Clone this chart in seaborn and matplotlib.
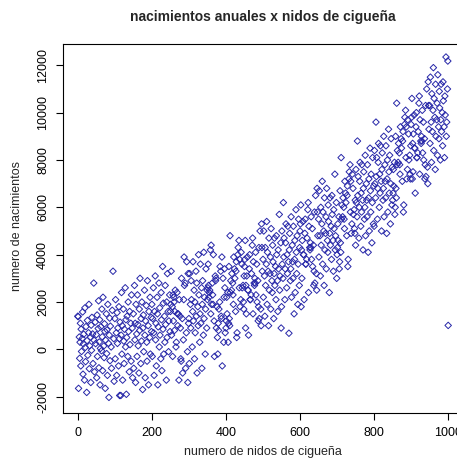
import matplotlib
matplotlib.use("Agg")
import matplotlib.pyplot as plt
import seaborn as sns
import pandas as pd

# ---- data ----
nidos = [
    # 0-49
    0,1,2,4,5,6,7,8,9,10, 12,13,14,15,16,18,19,20,21,22, 24,25,26,27,29,30,31,32,34,35, 36,37,38,40,41,43,44,45,47,48,
    # 50-99
    50,51,52,53,55,56,57,58,59,60, 61,62,64,65,66,67,68,70,71,72, 73,74,75,77,78,79,80,81,83,84, 85,86,87,88,90,91,93,95,97,98,
    # 100-149
    100,101,102,104,105,106,107,108,110,111, 112,113,114,116,117,118,119,120,121,123, 124,125,126,128,129,130,131,132,133,135, 136,137,139,140,141,143,144,145,147,148,
    # 150-199
    150,151,153,154,155,156,157,159,160,161, 162,163,165,166,167,168,170,171,172,173, 175,176,177,178,180,181,182,183,185,186, 187,188,190,191,192,194,195,196,198,199,
    # 200-249
    200,201,202,204,205,206,207,209,210,211, 212,214,215,216,217,219,220,221,222,224, 225,226,227,229,230,231,232,234,235,236, 237,239,240,241,242,244,245,246,248,249,
    # 250-299
    274,253,291,262,280,258,297,268,285,251, 277,294,256,271,288,265,299,260,283,252, 276,293,263,279,255,287,270,296,259,282, 266,290,250,273,286,261,298,269,278,257,
    # 300-349
    349,348,346,345,344,342,341,340,339,337, 336,335,334,332,331,330,329,327,326,325, 324,322,321,320,319,317,316,315,314,312, 311,310,309,307,306,305,304,302,301,300,
    # 350-399
    363,388,352,377,395,358,381,369,392,355, 374,386,361,397,366,379,350,390,372,359, 384,364,398,353,376,389,368,356,394,371, 383,360,387,351,378,396,365,354,380,373,
    # 400-449
    424,403,441,412,430,408,447,418,435,401, 427,444,406,421,438,415,449,410,433,402, 426,443,413,429,405,437,420,446,409,432, 416,440,400,423,436,411,448,419,428,407,
    # 450-499
    463,488,452,477,495,458,481,469,492,455, 474,486,461,497,466,479,450,490,472,459, 484,464,498,453,476,489,468,456,494,471, 483,460,487,451,478,496,465,454,480,473,
    # 500-549
    500,501,502,504,505,506,507,509,510,511, 512,514,515,516,517,519,520,521,522,524, 525,526,527,529,530,531,532,534,535,536, 537,539,540,541,542,544,545,546,548,549,
    # 550-599
    599,598,596,595,594,592,591,590,589,587, 586,585,584,582,581,580,579,577,576,575, 574,572,571,570,569,567,566,565,564,562, 561,560,559,557,556,555,554,552,551,550,
    # 600-649
    613,638,602,627,645,608,631,619,642,605, 624,636,611,647,616,629,600,640,622,609, 634,614,648,603,626,639,618,606,644,621, 633,610,637,601,628,646,615,604,630,623,
    # 650-699
    650,651,652,654,655,656,657,659,660,661, 662,664,665,666,667,669,670,671,672,674, 675,676,677,679,680,681,682,684,685,686, 687,689,690,691,692,694,695,696,698,699,
    # 700-749
    724,703,741,712,730,708,747,718,735,701, 727,744,706,721,738,715,749,710,733,702, 726,743,713,729,705,737,720,746,709,732, 716,740,700,723,736,711,748,719,728,707,
    # 750-799
    799,798,796,795,794,792,791,790,789,787, 786,785,784,782,781,780,779,777,776,775, 774,772,771,770,769,767,766,765,764,762, 761,760,759,757,756,755,754,752,751,750,
    # 800-849
    849,848,846,845,844,842,841,840,839,837, 836,835,834,832,831,830,829,827,826,825, 824,822,821,820,819,817,816,815,814,812, 811,810,809,807,806,805,804,802,801,800,
    # 850-899
    874,853,891,862,880,858,897,868,885,851, 877,894,856,871,888,865,899,860,883,852, 876,893,863,879,855,887,870,896,859,882, 866,890,850,873,886,861,898,869,878,857,
    # 900-949
    913,938,902,927,945,908,931,919,942,905, 924,936,911,947,916,929,900,940,922,909, 934,914,948,903,926,939,918,906,944,921, 933,910,937,901,928,946,915,904,930,923,
    # 950-999
    950,951,952,954,955,956,957,959,960,961, 962,964,965,966,967,969,970,971,972,974, 975,976,977,979,980,981,982,984,985,986, 987,989,990,991,992,994,995,996,998,999,
    # outlier
    1000,
]

nacimientos = [
    # 0-49
    1400,1380,-1650,520,-380,300,1100,-700,850,-90, 460,1580,-1050,230,640,-1300,1750,80,-520,960,
    -1820,370,1220,-250,700,1900,-820,150,520,-1400, 1020,-40,1350,650,-600,2800,380,-950,1150,240,
    # 50-99
    620,-1200,1450,-300,880,2050,-780,310,1250,-1500, 40,950,-60,1700,530,-900,2200,140,-350,1080,
    760,-1650,390,1500,-180,820,-1100,1900,250,-2030, 600,1320,-480,980,100,-800,1650,3300,450,-1350,
    # 100-149
    1300,-400,2100,700,-1100,1550,250,900,-700,1800, 450,-1950,1150,-1950,600,2400,-200,1000,-1300,1700,
    350,-600,850,2600,100,1250,-1900,500,1400,-300, 2000,750,-950,1600,200,1100,-500,2300,900,-1200,
    # 150-199
    1500,-800,2700,400,1100,-1400,1900,650,-300,2300, 1050,150,-1000,1700,800,3000,-600,1300,350,2000,
    -1700,900,1450,-100,2500,600,-1200,1200,1850,300, -500,2900,1000,-1500,1600,500,2200,-200,1350,750,
    # 200-249
    1900,-300,1300,2600,700,-1100,1600,3100,400,1100, -700,2200,1500,-1500,950,2800,100,1750,600,-400,
    2400,1250,-900,3500,850,1950,-200,1400,300,2700, 1050,-1300,2000,500,3200,1600,-100,1200,2300,750,
    # 250-299
    2100,600,-800,1600,3000,1200,-1400,2400,400,1900, 900,3700,-300,1500,2700,100,1100,2000,-1000,3300,
    1400,700,2500,-500,1800,3900,1000,-100,2200,1300, 300,2800,1600,-1300,2100,800,3200,1500,-400,2300,
    # 300-349
    2500,900,3400,1700,-200,2200,1300,4100,600,2900, 1900,-800,2600,1100,3600,1500,300,2300,4000,1000,
    1800,-1000,2800,1400,3300,700,2000,-400,2500,1200, 3700,1600,100,2100,2900,900,1900,3200,-600,1300,
    # 350-399
    2800,1300,3600,500,2200,4200,1700,-300,3000,2400, 900,3300,1900,2600,4000,1100,2100,-700,2900,1500,
    3500,2300,700,2700,1800,3900,1200,2500,300,3100, 2000,4400,1400,2600,-200,3400,1900,2200,800,3000,
    # 400-449
    3000,1500,4100,2400,700,3500,2000,2800,4600,1200, 3300,2600,300,3900,1800,2500,3100,1000,4300,2200,
    1600,3600,2900,500,2400,3800,1900,2700,1300,4000, 3200,2100,900,3400,2600,4800,1700,2300,3700,1100,
    # 450-499
    3400,1800,4600,2700,1000,3900,2300,3200,5000,1500, 3700,2900,600,4300,2100,2800,3500,1300,4700,2500,
    2000,4000,3300,900,2800,4300,2300,3100,1700,4400, 3600,2500,1200,3800,3000,5300,2100,2700,4100,1500,
    # 500-549
    3800,2200,5000,3100,1400,4300,2700,3600,5400,1900, 4100,3300,1000,4700,2500,3200,3900,1700,5100,2900,
    2400,4400,3700,1300,3200,4700,2700,3500,2100,4800, 4000,2900,1600,4200,3400,5700,2500,3100,4500,900,
    # 550-599
    4300,2700,5500,3600,1900,4800,3200,4100,5900,2400, 4600,3800,1500,5200,3000,3700,4400,2200,5600,3400,
    2900,4900,4200,680,3700,5200,3200,4000,2600,5300, 4500,3400,2100,4700,3900,6200,3000,3600,5000,1800,
    # 600-649
    4900,3300,6100,4200,2500,5400,3800,4700,6500,3000, 5200,4400,2100,5800,3600,4300,5000,2800,6200,4000,
    3500,5500,4800,1800,4300,5800,3800,4600,3200,5900, 5100,4000,2700,5300,4500,6800,3600,4200,5600,2400,
    # 650-699
    5500,3900,6700,4800,3100,6000,4400,5300,7100,3600, 5800,5000,2700,6400,4200,4900,5600,3400,6800,4600,
    4100,6100,5400,2400,4900,6400,4400,5200,3800,6500, 5700,4600,3300,5900,5100,7400,4200,4800,6200,3000,
    # 700-749
    6200,4600,7400,5500,3800,6700,5100,6000,7800,4300, 6500,5700,3400,7100,4900,5600,6300,4100,7500,5300,
    4800,6800,6100,3500,5600,7100,5100,5900,4500,7200, 6400,5300,4000,6600,5800,8100,4900,5500,6900,3700,
    # 750-799
    6900,5300,8100,6200,4500,7400,5800,6700,8500,5000, 7200,6400,4100,7800,5600,6300,7000,4800,8200,6000,
    5500,7500,6800,4200,6300,7800,5800,6600,5200,7900, 7100,6000,4700,7300,6500,8800,5600,6200,7600,4400,
    # 800-849
    7700,6100,8900,7000,5300,8200,6600,7500,9300,5800, 8000,7200,4900,8600,6400,7100,7800,5600,9000,6800,
    6300,8300,7600,5000,7100,8600,6600,7400,6000,8700, 7900,6800,5500,8100,7300,9600,6400,7000,8400,5200,
    # 850-899
    8500,6900,9700,7800,6100,9000,7400,8300,10100,6600, 8800,8000,5700,9400,7200,7900,8600,6400,9800,7600,
    7100,9100,8400,5800,7900,9400,7400,8200,6800,9500, 8700,7600,6300,8900,8100,10400,7200,7800,9200,6000,
    # 900-949
    9400,7800,10600,8700,7000,9900,8300,9200,11000,7500, 9700,8900,6600,10300,8100,8800,9500,7300,10700,8500,
    8000,10000,9300,7200,8800,10300,8300,9100,7700,10400, 9600,8500,7200,9800,9000,11300,8100,8700,10100,7400,
    # 950-999
    10300,8700,11500,9600,7900,10800,9200,10100,11900,8400, 10600,9800,7600,11200,9000,9700,10400,8200,11600,9400,
    8900,10900,10200,8000,9700,11200,9200,10000,8600,11300, 10500,9400,8100,10700,9900,12350,9000,9600,11000,12180,
    # outlier
    1010,
]

x_ticks = [0, 200, 400, 600, 800, 1000]
y_ticks = [-2000, 0, 2000, 4000, 6000, 8000, 10000, 12000]
title_text = "nacimientos anuales x nidos de cigueña"
x_label = "numero de nidos de cigueña"
y_label = "numero de nacimientos"

df = pd.DataFrame({"nidos": nidos, "nacimientos": nacimientos})

sns.set_style("white")
plt.rcParams["font.family"] = ["Liberation Sans", "DejaVu Sans"]

W, H = 457, 463
fig = plt.figure(figsize=(W / 100, H / 100), dpi=100)
ax = fig.add_axes([63 / W, 1 - 413 / H, 400 / W, (413 - 44) / H])

sns.scatterplot(data=df, x="nidos", y="nacimientos", ax=ax, marker="D",
                s=11, linewidth=0.7, legend=False)
for coll in ax.collections:
    coll.set_facecolor("none")
    coll.set_edgecolor("#2626a8")

ax.set_xlim(-40, 1040)
ax.set_ylim(-2690, 12900)
ax.set_xticks(x_ticks)
ax.set_yticks(y_ticks)
ax.set_xticklabels([str(v) for v in x_ticks])
ax.set_yticklabels([str(v) for v in y_ticks])
ax.set_xlabel("")
ax.set_ylabel("")

for sp in ax.spines.values():
    sp.set_visible(True)
    sp.set_color("black")
    sp.set_linewidth(0.8)

ax.tick_params(axis="both", which="major", direction="out", length=5,
               width=0.8, color="black", labelsize=9, labelcolor="black",
               bottom=True, left=True, top=False, right=False)
ax.tick_params(axis="x", pad=5)
ax.tick_params(axis="y", pad=5)
for lab in ax.get_yticklabels():
    lab.set_rotation(90)
    lab.set_va("center")
    lab.set_ha("right")

fig.text(263 / W, 1 - 17 / H, title_text, ha="center", va="center",
         fontsize=10, fontweight="bold")
fig.text(263 / W, 1 - 452 / H, x_label, ha="center", va="center", fontsize=9)
fig.text(17 / W, 1 - 226 / H, y_label, ha="center", va="center",
         fontsize=9, rotation=90)

fig.savefig("out.png", dpi=100, facecolor="white")
